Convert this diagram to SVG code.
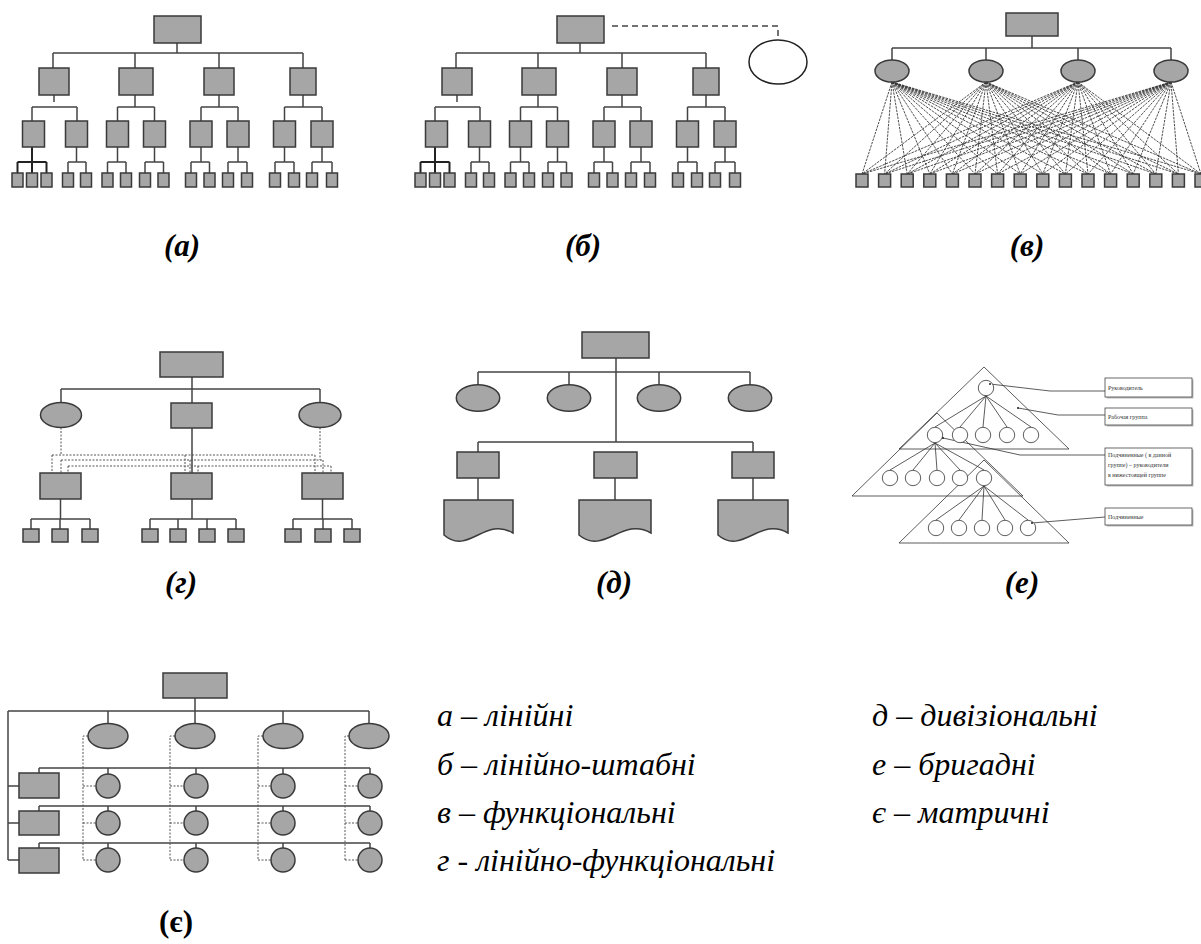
<svg xmlns="http://www.w3.org/2000/svg" xmlns:xlink="http://www.w3.org/1999/xlink" width="1201" height="944" viewBox="0 0 1201 944">
<style>
.b{fill:#a6a6a6;stroke:#3a3a3a;stroke-width:1.5}
.l{fill:none;stroke:#444;stroke-width:1.5}
.lk{fill:none;stroke:#222;stroke-width:2}
.d{fill:none;stroke:#555;stroke-width:1;stroke-dasharray:2 1.5}
.dv{fill:none;stroke:#3a3a3a;stroke-width:0.9;stroke-dasharray:2.5 1}
.w{fill:#fff;stroke:#222;stroke-width:1.5}
.e{fill:none;stroke:#333;stroke-width:0.8}
.ec{fill:#fff;stroke:#333;stroke-width:0.8}
.lb{fill:#fff;stroke:#444;stroke-width:0.8}
.sh{fill:#bbb}
.cap{font-size:31px;font-weight:bold;font-style:italic;text-anchor:middle}
.leg{font-size:32px;font-style:italic}
.lab{font-size:6px;fill:#333}
</style>
<defs>
<g id="lineTree">
<path class="l" d="M177 43V53M53 53H303M53 53V68M135 53V68M219 53V68M303 53V68M54 95V102M32 107H77M32 107V121M77 107V121M135 95V107M117.5 107H154.5M117.5 107V121M154.5 107V121M219 95V107M201 107H238M201 107V121M238 107V121M303 95V107M284.5 107H322M284.5 107V121M322 107V121M76.5 147V162M68 162H86M68 162V173M86 162V173M117.5 147V162M107.5 162H126M107.5 162V173M126 162V173M154.5 147V162M145 162H163.5M145 162V173M163.5 162V173M201 147V162M191 162H209.5M191 162V173M209.5 162V173M238 147V162M228 162H247M228 162V173M247 162V173M284.5 147V162M275 162H294M275 162V173M294 162V173M322 147V162M312 162H332M312 162V173M332 162V173"/>
<path class="lk" d="M32 147V162M17.5 162H46.5M17.5 162V173M32 162V173M46.5 162V173"/>
<rect class="b" x="154" y="16" width="47" height="27"/>
<rect class="b" x="39" y="68" width="30" height="27"/>
<rect class="b" x="119" y="68" width="34" height="27"/>
<rect class="b" x="204" y="68" width="30" height="27"/>
<rect class="b" x="290" y="68" width="26" height="27"/>
<rect class="b" x="22.5" y="121" width="22" height="26"/>
<rect class="b" x="65.5" y="121" width="22" height="26"/>
<rect class="b" x="106.5" y="121" width="22" height="26"/>
<rect class="b" x="143.5" y="121" width="22" height="26"/>
<rect class="b" x="190" y="121" width="22" height="26"/>
<rect class="b" x="227" y="121" width="22" height="26"/>
<rect class="b" x="273.5" y="121" width="22" height="26"/>
<rect class="b" x="311" y="121" width="22" height="26"/>
<rect class="b" x="12" y="173" width="11" height="14"/>
<rect class="b" x="26.5" y="173" width="11" height="14"/>
<rect class="b" x="41" y="173" width="11" height="14"/>
<rect class="b" x="62.5" y="173" width="11" height="14"/>
<rect class="b" x="80.5" y="173" width="11" height="14"/>
<rect class="b" x="102" y="173" width="11" height="14"/>
<rect class="b" x="120.5" y="173" width="11" height="14"/>
<rect class="b" x="139.5" y="173" width="11" height="14"/>
<rect class="b" x="158" y="173" width="11" height="14"/>
<rect class="b" x="185.5" y="173" width="11" height="14"/>
<rect class="b" x="204" y="173" width="11" height="14"/>
<rect class="b" x="222.5" y="173" width="11" height="14"/>
<rect class="b" x="241.5" y="173" width="11" height="14"/>
<rect class="b" x="269.5" y="173" width="11" height="14"/>
<rect class="b" x="288.5" y="173" width="11" height="14"/>
<rect class="b" x="306.5" y="173" width="11" height="14"/>
<rect class="b" x="326.5" y="173" width="11" height="14"/>
</g>
</defs>

<g id="diagram-a">
<use xlink:href="#lineTree" href="#lineTree"/>
</g>

<g id="diagram-b">
<use xlink:href="#lineTree" href="#lineTree" transform="translate(403,0)"/>
<g id="connectors-b"><path class="l" d="M612 26H778V39" stroke-dasharray="6 4"/></g>
<g id="staff"><ellipse class="w" cx="778" cy="62" rx="29" ry="22"/></g>
</g>

<g id="diagram-v">
<g id="connectors-v">
<path class="l" d="M1032 36V48M892 48H1171M892 48V60M986 48V60M1078 48V60M1171 48V60"/>
<path class="dv" d="M892 82L862 174M892 82L884.6 174M892 82L907.2 174M892 82L929.8 174M892 82L952.4 174M892 82L975 174M892 82L997.6 174M892 82L1020.2 174M892 82L1042.8 174M892 82L1065.4 174M892 82L1088 174M892 82L1110.6 174M892 82L1133.2 174M892 82L1155.8 174M892 82L1178.4 174M892 82L1201 174"/>
<path class="dv" d="M986 82L862 174M986 82L884.6 174M986 82L907.2 174M986 82L929.8 174M986 82L952.4 174M986 82L975 174M986 82L997.6 174M986 82L1020.2 174M986 82L1042.8 174M986 82L1065.4 174M986 82L1088 174M986 82L1110.6 174M986 82L1133.2 174M986 82L1155.8 174M986 82L1178.4 174M986 82L1201 174"/>
<path class="dv" d="M1078 82L862 174M1078 82L884.6 174M1078 82L907.2 174M1078 82L929.8 174M1078 82L952.4 174M1078 82L975 174M1078 82L997.6 174M1078 82L1020.2 174M1078 82L1042.8 174M1078 82L1065.4 174M1078 82L1088 174M1078 82L1110.6 174M1078 82L1133.2 174M1078 82L1155.8 174M1078 82L1178.4 174M1078 82L1201 174"/>
<path class="dv" d="M1171 82L862 174M1171 82L884.6 174M1171 82L907.2 174M1171 82L929.8 174M1171 82L952.4 174M1171 82L975 174M1171 82L997.6 174M1171 82L1020.2 174M1171 82L1042.8 174M1171 82L1065.4 174M1171 82L1088 174M1171 82L1110.6 174M1171 82L1133.2 174M1171 82L1155.8 174M1171 82L1178.4 174M1171 82L1201 174"/>
</g>
<rect class="b" x="1006" y="13" width="52" height="23"/>
<ellipse class="b" cx="892" cy="71" rx="17" ry="11"/>
<ellipse class="b" cx="986" cy="71" rx="17" ry="11"/>
<ellipse class="b" cx="1078" cy="71" rx="17" ry="11"/>
<ellipse class="b" cx="1171" cy="71" rx="17" ry="11"/>
<g id="workers-v">
<rect class="b" x="856" y="174" width="12" height="13"/>
<rect class="b" x="878.6" y="174" width="12" height="13"/>
<rect class="b" x="901.2" y="174" width="12" height="13"/>
<rect class="b" x="923.8" y="174" width="12" height="13"/>
<rect class="b" x="946.4" y="174" width="12" height="13"/>
<rect class="b" x="969" y="174" width="12" height="13"/>
<rect class="b" x="991.6" y="174" width="12" height="13"/>
<rect class="b" x="1014.2" y="174" width="12" height="13"/>
<rect class="b" x="1036.8" y="174" width="12" height="13"/>
<rect class="b" x="1059.4" y="174" width="12" height="13"/>
<rect class="b" x="1082" y="174" width="12" height="13"/>
<rect class="b" x="1104.6" y="174" width="12" height="13"/>
<rect class="b" x="1127.2" y="174" width="12" height="13"/>
<rect class="b" x="1149.8" y="174" width="12" height="13"/>
<rect class="b" x="1172.4" y="174" width="12" height="13"/>
<rect class="b" x="1195" y="174" width="12" height="13"/>
</g>
</g>

<g id="diagram-g">
<g id="connectors-g">
<path class="l" d="M192 377V403M61 389H320M61 389V402.5M320 389V402.5M192 428V473M60.5 499V519M31 519H90M31 519V529M60 519V529M90 519V529M192 499V519M150 519H236M150 519V529M178 519V529M207 519V529M236 519V529M322.5 499V519M293 519H352M293 519V529M323 519V529M352 519V529"/>
<path class="d" d="M61 427.5V455M320 427.5V460M52 455H315M52 455V473M185 455V473M315 455V473M61 460H323M61 460V473M190 460V473M323 460V473M68 466H331M68 466V473M198 466V473M331 466V473"/>
</g>
<rect class="b" x="160" y="352" width="63" height="25"/>
<ellipse class="b" cx="61" cy="415" rx="20.5" ry="12.5"/>
<rect class="b" x="171" y="403" width="41" height="25"/>
<ellipse class="b" cx="320" cy="415" rx="21" ry="12.5"/>
<rect class="b" x="40" y="473" width="41" height="26"/>
<rect class="b" x="171" y="473" width="41" height="26"/>
<rect class="b" x="302" y="473" width="41" height="26"/>
<rect class="b" x="23" y="529" width="16" height="13"/>
<rect class="b" x="52" y="529" width="16" height="13"/>
<rect class="b" x="82" y="529" width="16" height="13"/>
<rect class="b" x="142" y="529" width="16" height="13"/>
<rect class="b" x="170" y="529" width="16" height="13"/>
<rect class="b" x="199" y="529" width="16" height="13"/>
<rect class="b" x="228" y="529" width="16" height="13"/>
<rect class="b" x="285" y="529" width="16" height="13"/>
<rect class="b" x="315" y="529" width="16" height="13"/>
<rect class="b" x="344" y="529" width="16" height="13"/>
</g>

<g id="diagram-d">
<g id="connectors-d">
<path class="l" d="M616 358V442M478 372H750M478 372V384.7M569 372V384.7M659 372V384.7M750 372V384.7M478 442H753M478 442V452M753 442V452M478 478V500M615 478V500M753 478V500"/>
</g>
<rect class="b" x="582" y="332" width="67" height="26"/>
<ellipse class="b" cx="478" cy="398" rx="21.7" ry="13.3"/>
<ellipse class="b" cx="569" cy="398" rx="21.7" ry="13.3"/>
<ellipse class="b" cx="659" cy="398" rx="21.7" ry="13.3"/>
<ellipse class="b" cx="750" cy="398" rx="21.7" ry="13.3"/>
<rect class="b" x="457" y="452" width="42" height="26"/>
<rect class="b" x="594" y="452" width="43" height="26"/>
<rect class="b" x="732" y="452" width="42" height="26"/>
<path class="b" d="M444 500H513V533C485 516 468 556 444 535Z"/>
<path class="b" d="M579 500H651V533C622 516 604 556 579 535Z"/>
<path class="b" d="M718 500H788V533C760 516 742 556 718 535Z"/>
</g>

<g id="diagram-e">
<g id="triangles">
<polygon class="e" points="984,367 1069,449 899,449"/>
<polygon class="e" points="937,413 1023,496 852,496"/>
<polygon class="e" points="984,460 1069,543 899,543"/>
</g>
<g id="connectors-e">
<path class="e" d="M986 396L935 427M986 396L960 427M986 396L983 427M986 396L1007 427M986 396L1031 427M935 443L890 470M935 443L913 470M935 443L937 470M935 443L960 470M935 443L984 470M984 486L936 520M984 486L959 520M984 486L982 520M984 486L1005 520M984 486L1028 520"/>
<path class="e" d="M990 384L1050 391H1105M1018 408L1058 415H1105M943 438L1020 455H1105M1032 523L1105 517"/>
</g>
<circle class="ec" cx="986" cy="388" r="7.7"/>
<circle class="ec" cx="935" cy="435" r="7.7"/>
<circle class="ec" cx="960" cy="435" r="7.7"/>
<circle class="ec" cx="983" cy="435" r="7.7"/>
<circle class="ec" cx="1007" cy="435" r="7.7"/>
<circle class="ec" cx="1031" cy="435" r="7.7"/>
<circle class="ec" cx="890" cy="478" r="7.7"/>
<circle class="ec" cx="913" cy="478" r="7.7"/>
<circle class="ec" cx="937" cy="478" r="7.7"/>
<circle class="ec" cx="960" cy="478" r="7.7"/>
<circle class="ec" cx="984" cy="478" r="7.7"/>
<circle class="ec" cx="936" cy="528" r="7.7"/>
<circle class="ec" cx="959" cy="528" r="7.7"/>
<circle class="ec" cx="982" cy="528" r="7.7"/>
<circle class="ec" cx="1005" cy="528" r="7.7"/>
<circle class="ec" cx="1028" cy="528" r="7.7"/>
<g fill="#222"><circle cx="990" cy="384" r="1"/><circle cx="1018" cy="408" r="1"/><circle cx="943" cy="438" r="1"/><circle cx="1032" cy="523" r="1"/></g>
<g id="label-boxes">
<rect class="sh" x="1106.5" y="379.5" width="87" height="19"/>
<rect class="lb" x="1105" y="378" width="87" height="19"/>
<rect class="sh" x="1106.5" y="409.5" width="87" height="17"/>
<rect class="lb" x="1105" y="408" width="87" height="17"/>
<rect class="sh" x="1106.5" y="449.5" width="87" height="37"/>
<rect class="lb" x="1105" y="448" width="87" height="37"/>
<rect class="sh" x="1106.5" y="509.5" width="87" height="17"/>
<rect class="lb" x="1105" y="508" width="87" height="17"/>
<g class="lab" font-family="'Liberation Serif', 'Times New Roman', serif">
<text x="1108" y="390">Руководитель</text>
<text x="1108" y="419">Рабочая группа</text>
<text x="1108" y="457">Подчиненные ( в данной</text>
<text x="1108" y="467">группе) – руководители</text>
<text x="1108" y="477">в нижестоящей группе</text>
<text x="1108" y="519">Подчиненные</text>
</g>
</g>
</g>

<g id="diagram-ye">
<g id="connectors-ye">
<path class="l" d="M195 698V711M8 711H369M8 711V860M108 711V723.5M195 711V723.5M283 711V723.5M369 711V723.5M8 786H19M8 823H19M8 860H19M39 768H370M39 768V773M39 806H370M39 806V811M39 843H370M39 843V848M108 768V774M196 768V774M283 768V774M370 768V774M108 806V811M196 806V811M283 806V811M370 806V811M108 843V848M196 843V848M283 843V848M370 843V848"/>
<path class="d" d="M88 736H83V860M83 786H96M83 823H96M83 860H96M175 736H170V860M170 786H184M170 823H184M170 860H184M263 736H258V860M258 786H271M258 823H271M258 860H271M349 736H345V860M345 786H358M345 823H358M345 860H358"/>
</g>
<rect class="b" x="163" y="673" width="64" height="25"/>
<ellipse class="b" cx="108" cy="736" rx="20" ry="12.5"/>
<ellipse class="b" cx="195" cy="736" rx="20" ry="12.5"/>
<ellipse class="b" cx="283" cy="736" rx="20" ry="12.5"/>
<ellipse class="b" cx="369" cy="736" rx="20" ry="12.5"/>
<rect class="b" x="19" y="773" width="40" height="25"/>
<rect class="b" x="19" y="811" width="40" height="24"/>
<rect class="b" x="19" y="848" width="40" height="25"/>
<circle class="b" cx="108" cy="786" r="12"/>
<circle class="b" cx="196" cy="786" r="12"/>
<circle class="b" cx="283" cy="786" r="12"/>
<circle class="b" cx="370" cy="786" r="12"/>
<circle class="b" cx="108" cy="823" r="12"/>
<circle class="b" cx="196" cy="823" r="12"/>
<circle class="b" cx="283" cy="823" r="12"/>
<circle class="b" cx="370" cy="823" r="12"/>
<circle class="b" cx="108" cy="860" r="12"/>
<circle class="b" cx="196" cy="860" r="12"/>
<circle class="b" cx="283" cy="860" r="12"/>
<circle class="b" cx="370" cy="860" r="12"/>
</g>

<g id="captions" class="cap" font-family="'Liberation Serif', 'Times New Roman', serif">
<text x="182" y="256">(а)</text>
<text x="583" y="256">(б)</text>
<text x="1027" y="256">(в)</text>
<text x="181" y="593">(г)</text>
<text x="614" y="593">(д)</text>
<text x="1022" y="593">(е)</text>
<text x="176" y="932" font-style="normal" style="font-style:normal">(є)</text>
</g>

<g id="legend" class="leg" font-family="'Liberation Serif', 'Times New Roman', serif">
<text x="437" y="726">а – лінійні</text>
<text x="437" y="775">б – лінійно-штабні</text>
<text x="437" y="823">в – функціональні</text>
<text x="437" y="871">г - лінійно-функціональні</text>
<text x="872" y="726">д – дивізіональні</text>
<text x="872" y="775">е – бригадні</text>
<text x="872" y="823">є – матричні</text>
</g>
</svg>
